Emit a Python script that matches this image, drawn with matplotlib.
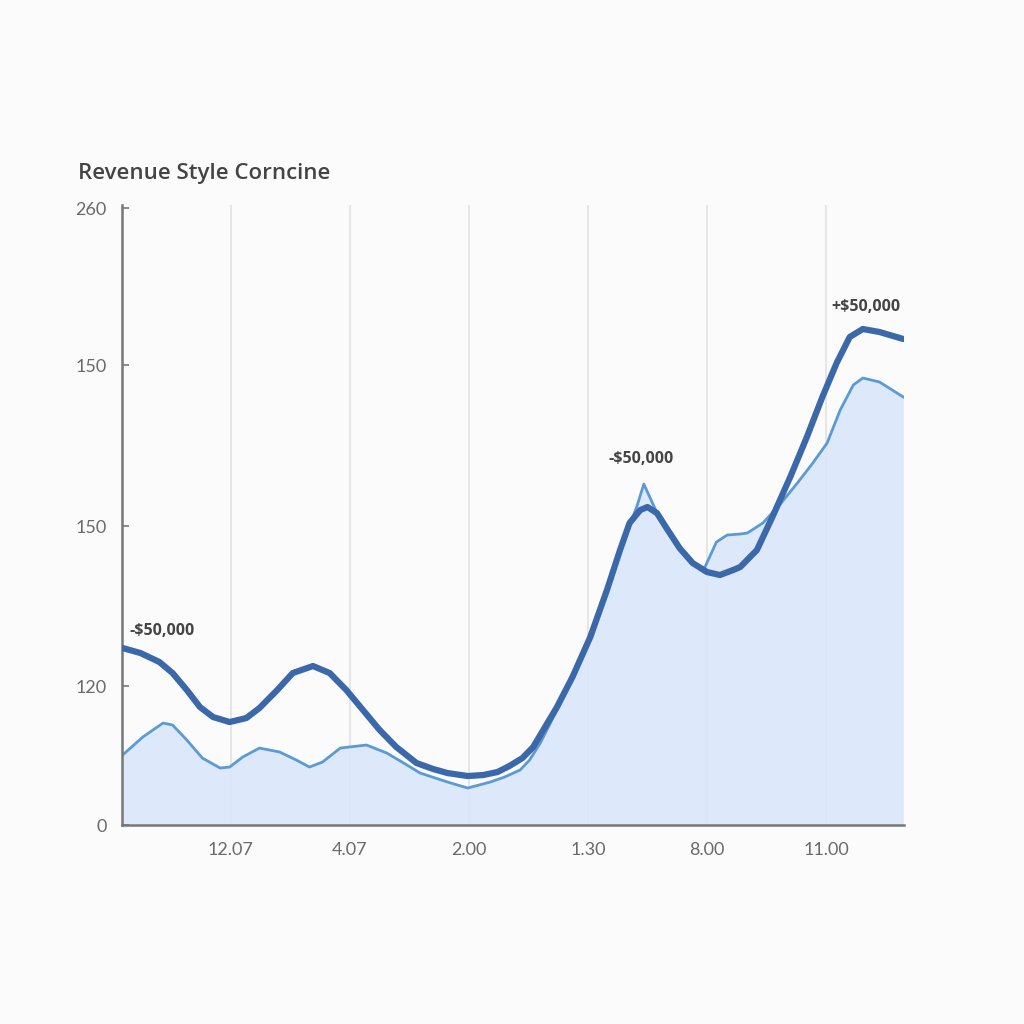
import matplotlib.pyplot as plt

# values (x in tick units, y in chart units)
dark_x = [0.09, 0.24, 0.40, 0.51, 0.63, 0.74, 0.85, 0.99, 1.13, 1.24, 1.39, 1.52,
          1.69, 1.83, 1.97, 2.11, 2.25, 2.39, 2.56, 2.70, 2.82, 2.99, 3.12, 3.24,
          3.34, 3.45, 3.54, 3.60, 3.74, 3.87, 4.02, 4.16, 4.27, 4.35, 4.44, 4.50,
          4.58, 4.66, 4.77, 4.88, 5.00, 5.11, 5.22, 5.28, 5.42, 5.55, 5.70, 5.84,
          5.97, 6.09, 6.20, 6.31, 6.45, 6.65]
dark_y = [177, 172, 163, 152, 135, 118, 108, 103, 107, 117, 135, 152,
          159, 152, 135, 115, 95, 78, 62, 56, 52, 49, 50, 53,
          59, 67, 78, 90, 118, 148, 188, 235, 275, 302, 315, 318,
          312, 297, 277, 262, 253, 250, 255, 258, 275, 308, 348, 388,
          428, 462, 488, 496, 493, 486]

light_x = [0.09, 0.26, 0.43, 0.51, 0.63, 0.76, 0.91, 0.99, 1.10, 1.24, 1.41, 1.55,
           1.66, 1.77, 1.92, 2.14, 2.31, 2.48, 2.59, 2.82, 2.99, 3.18, 3.30, 3.43,
           3.51, 3.60, 3.74, 3.87, 4.02, 4.16, 4.27, 4.35, 4.41, 4.47, 4.55, 4.58,
           4.66, 4.77, 4.88, 4.98, 5.08, 5.17, 5.28, 5.34, 5.47, 5.61, 5.76, 5.89,
           6.01, 6.12, 6.23, 6.31, 6.45, 6.65]
light_y = [70, 88, 102, 100, 85, 67, 57, 58, 68, 77, 73, 65,
           58, 63, 77, 80, 72, 60, 52, 43, 37, 43, 48, 55,
           65, 82, 115, 146, 186, 233, 273, 300, 318, 341, 320, 312,
           297, 277, 262, 257, 283, 290, 291, 292, 302, 320, 342, 362,
           382, 415, 440, 447, 443, 428]

x_ticks = [1, 2, 3, 4, 5, 6]
x_labels = ["12.07", "4.07", "2.00", "1.30", "8.00", "11.00"]
y_ticks = [0, 139, 299, 460, 617]
y_labels = ["0", "120", "150", "150", "260"]

notes = ["-$50,000", "-$50,000", "+$50,000"]
note_x = [0.15, 4.45, 6.34]
note_y = [194, 366, 518]
note_ha = ["left", "center", "center"]

bg = "#fbfbfb"
fig = plt.figure(figsize=(10.24, 10.24), dpi=100, facecolor=bg)
ax = fig.add_axes([0.119, 0.1943, 0.7637, 0.6055], facecolor=bg)

# grid lines first so the fill sits over them
for xt in x_ticks:
    ax.axvline(xt, color="#e2e2e2", lw=1.2, zorder=0)

ax.fill_between(light_x, 0, light_y, color="#dae8fa", alpha=0.9, lw=0, zorder=1)
ax.plot(light_x, light_y, color="#5b9bd5", lw=2, zorder=2, solid_joinstyle="round")
ax.plot(dark_x, dark_y, color="#3a68a8", lw=4.5, zorder=3,
        solid_joinstyle="round", solid_capstyle="round")

for t, x, y, ha in zip(notes, note_x, note_y, note_ha):
    ax.text(x, y, t, ha=ha, va="center", fontsize=11.5, fontweight="bold",
            color="#444444", family="Open Sans")

ax.set_xlim(0.084, 6.655)
ax.set_ylim(0, 620)
ax.set_xticks(x_ticks)
ax.set_xticklabels(x_labels)
ax.set_yticks(y_ticks)
ax.set_yticklabels(y_labels)

for lab in ax.get_xticklabels() + ax.get_yticklabels():
    lab.set_family("Lato")
    lab.set_fontsize(13)
    lab.set_color("#6a6a6a")

ax.tick_params(axis="x", length=0, pad=12)
ax.tick_params(axis="y", direction="in", length=5, width=1.2, color="#777777", pad=11)

for s in ["top", "right"]:
    ax.spines[s].set_visible(False)
for s in ["left", "bottom"]:
    ax.spines[s].set_color("#777777")
    ax.spines[s].set_linewidth(1.8)

fig.text(0.076, 0.831, "Revenue Style Corncine", fontsize=16, fontweight="semibold",
         color="#444444", family="Open Sans", va="center")

fig.savefig("out.png", dpi=100, facecolor=bg)
